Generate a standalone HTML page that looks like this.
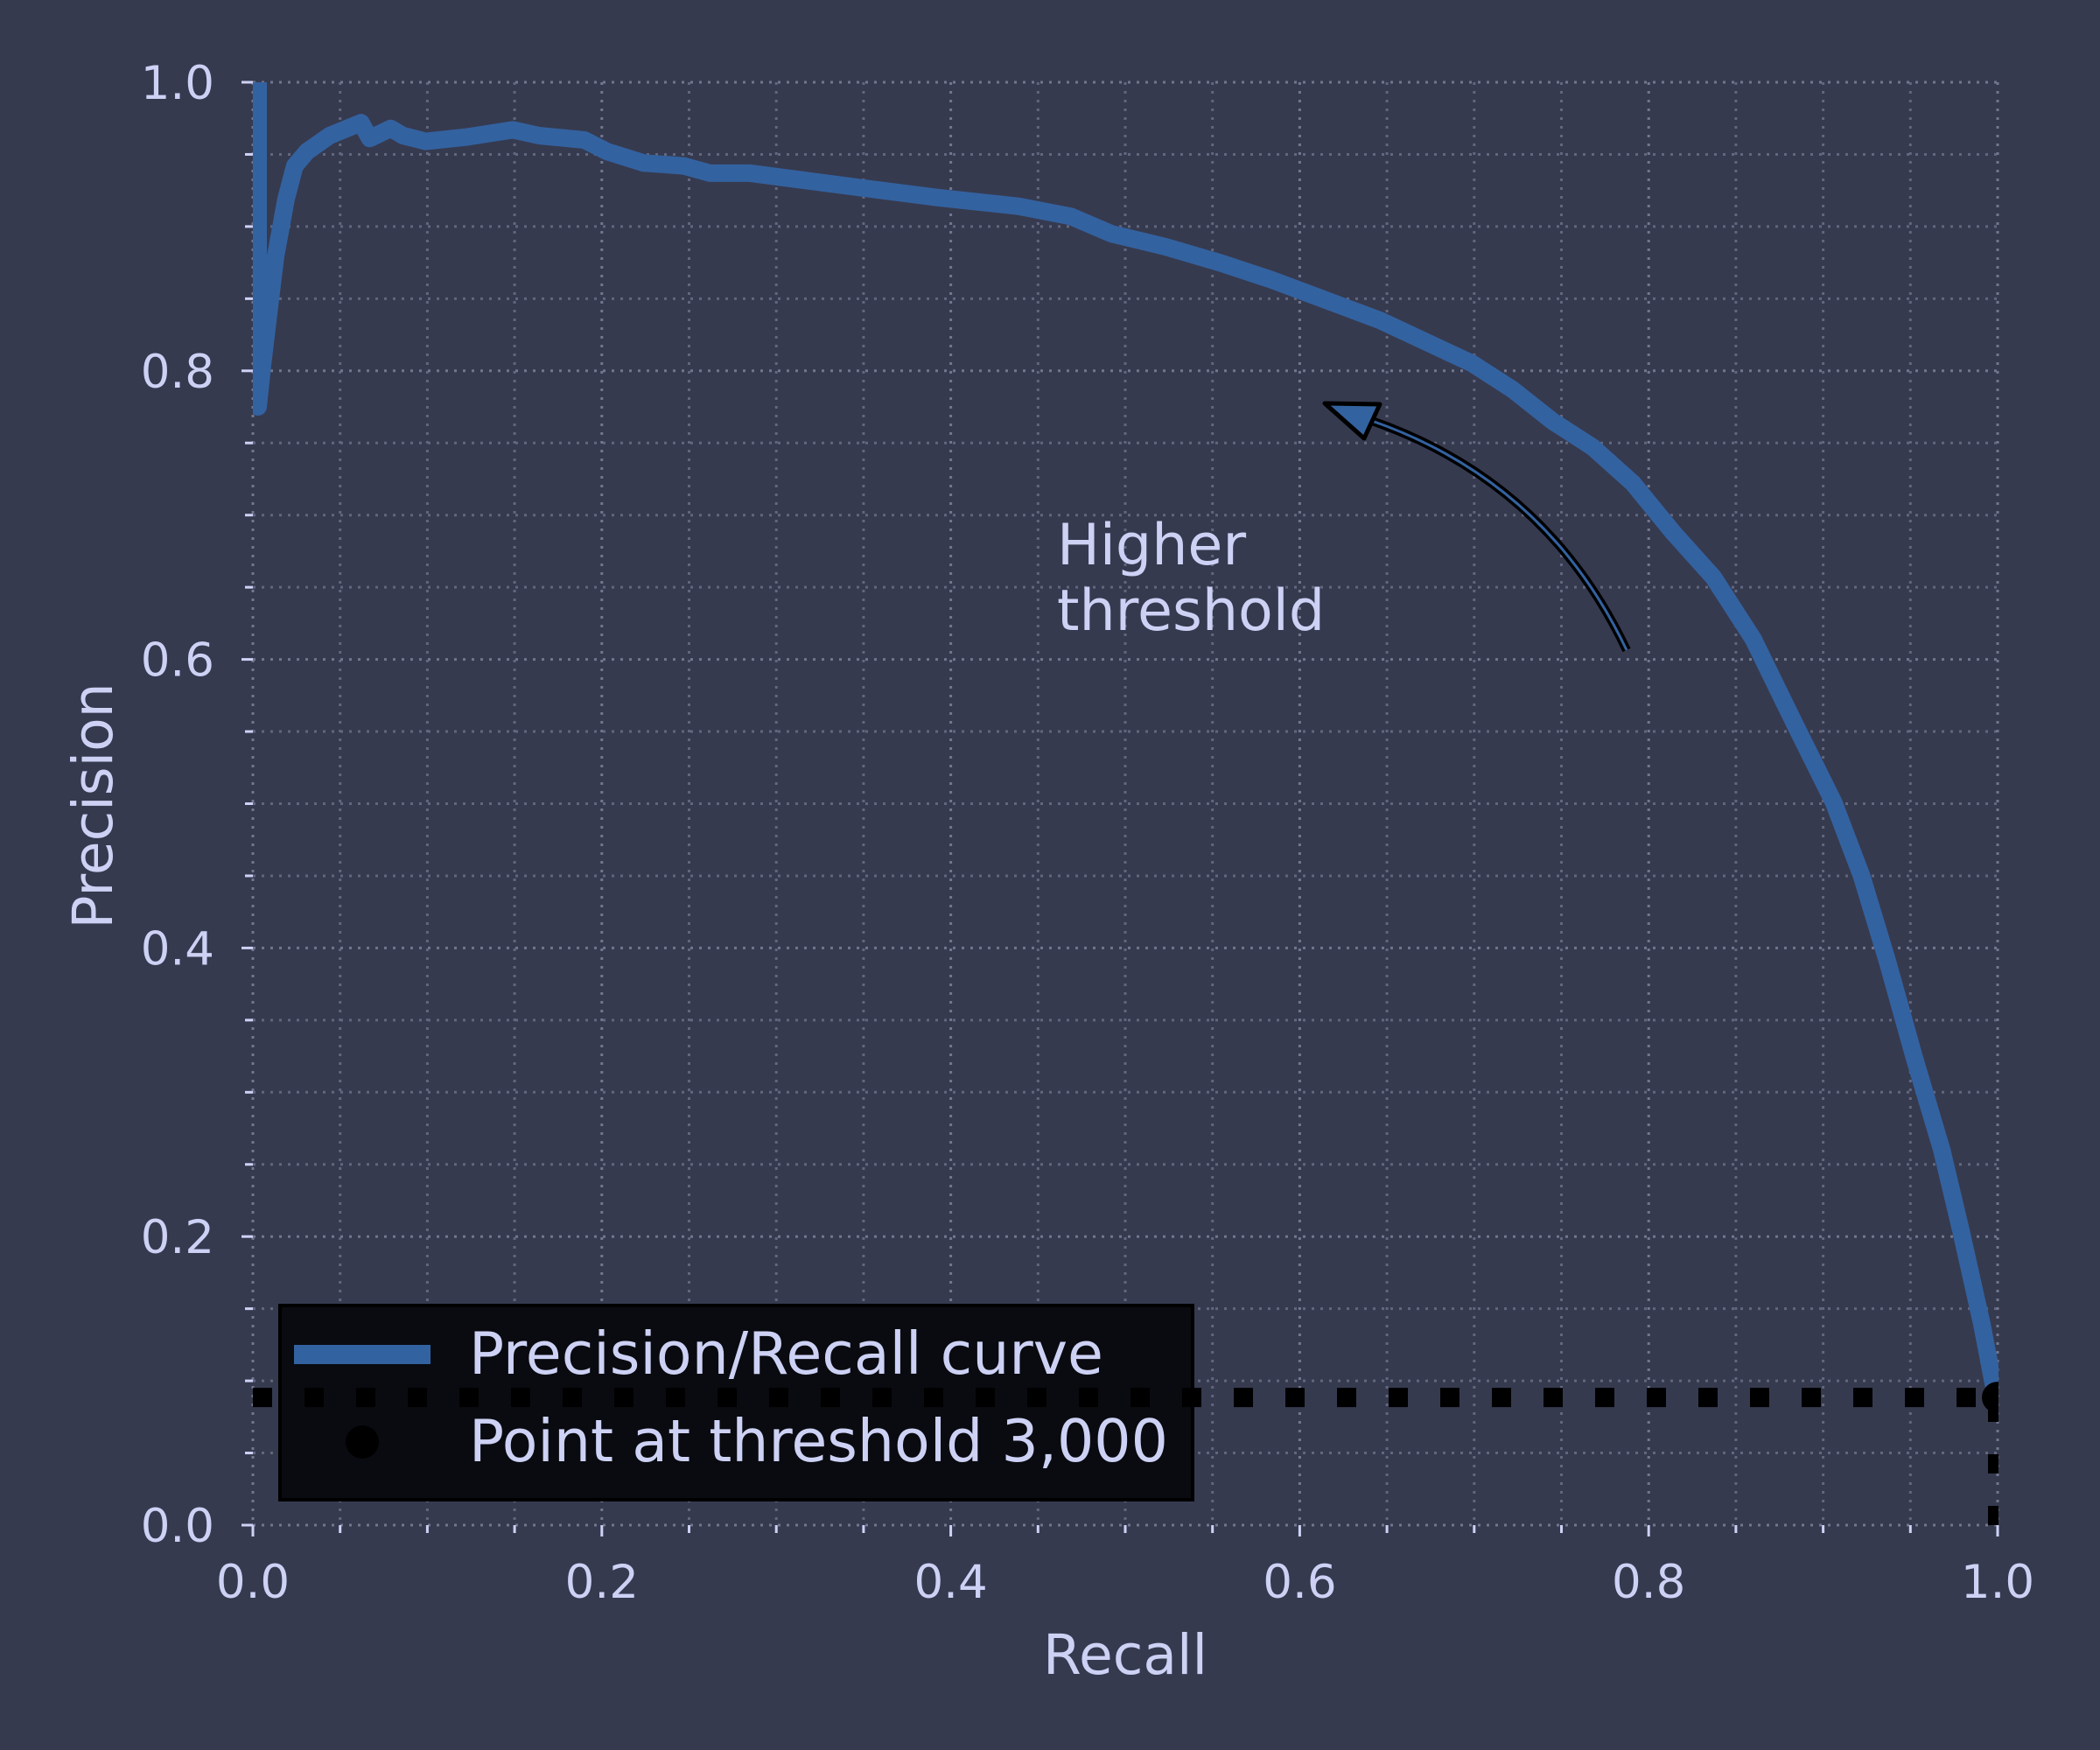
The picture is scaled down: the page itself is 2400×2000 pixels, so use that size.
<!DOCTYPE html>
<html><head><meta charset="utf-8">
<style>
html,body{margin:0;padding:0;background:#363a4f;}
svg{display:block;font-family:"DejaVu Sans","Liberation Sans",sans-serif;}
</style></head>
<body>
<svg id="chart" width="2400" height="2000" viewBox="0 0 2400 2000" xmlns="http://www.w3.org/2000/svg">
<rect x="0" y="0" width="2400" height="2000" fill="#363a4f"/>
<defs><clipPath id="plotclip"><rect x="289" y="94" width="1995" height="1649"/></clipPath></defs>
<g id="grid"></g>
<g id="ticks"></g>
<g id="series" clip-path="url(#plotclip)"></g>
<text x="1286" y="1913" font-size="63" fill="#cdd2f5" text-anchor="middle">Recall</text>
<text transform="translate(128,921) rotate(-90)" font-size="63" fill="#cdd2f5" text-anchor="middle">Precision</text>
<g>
<text font-size="65" fill="#cdd2f5"><tspan x="1208" y="645">Higher</tspan><tspan x="1208" y="720">threshold</tspan></text>
<path d="M1859,743 Q1768,551 1568,481" fill="none" stroke="#000" stroke-width="10"/>
<path d="M1859,743 Q1768,551 1568,481" fill="none" stroke="#3362a0" stroke-width="3"/>
<polygon points="1514,461 1577,462 1559,501" fill="#3362a0" stroke="#000" stroke-width="5" stroke-linejoin="round"/>
</g>
<g id="legend">
<rect x="320" y="1492" width="1043" height="222" fill="#0a0b10" stroke="#000" stroke-width="4"/>
<line x1="336" y1="1548" x2="492" y2="1548" stroke="#3362a0" stroke-width="22"/>
<text x="536" y="1570" font-size="66.5" fill="#cdd2f5">Precision/Recall curve</text>
<circle cx="414" cy="1648" r="19" fill="#000"/>
<text x="536" y="1670" font-size="66.5" fill="#cdd2f5">Point at threshold 3,000</text>
</g>
<g id="overlay" clip-path="url(#plotclip)"></g>
</svg>
<script>
const recalls = [0.003,0.003,0.0055,0.009,0.013,0.019,0.024,0.031,0.044,0.062,0.067,0.079,0.086,0.099,0.122,0.149,0.164,0.19,0.203,0.224,0.247,0.262,0.285,0.316,0.354,0.393,0.439,0.469,0.492,0.523,0.554,0.584,0.615,0.646,0.676,0.699,0.722,0.745,0.768,0.791,0.814,0.837,0.86,0.883,0.906,0.922,0.937,0.952,0.968,0.979,0.991,0.998,1.0];
const precisions = [1.0,0.775,0.804,0.839,0.879,0.919,0.942,0.952,0.963,0.972,0.961,0.968,0.963,0.959,0.962,0.967,0.963,0.96,0.952,0.944,0.942,0.937,0.937,0.932,0.926,0.92,0.914,0.907,0.895,0.886,0.875,0.863,0.849,0.835,0.818,0.805,0.787,0.765,0.747,0.722,0.688,0.657,0.614,0.557,0.501,0.45,0.39,0.325,0.26,0.204,0.139,0.095,0.0885];
const thresholdPoint = [1.0, 0.0885];
const xTickLabels = ["0.0","0.2","0.4","0.6","0.8","1.0"];
const yTickLabels = ["0.0","0.2","0.4","0.6","0.8","1.0"];

const X0=289,X1=2283,Y0=1743,Y1=94;
function sx(v){return X0+(X1-X0)*v;}
function sy(v){return Y0-(Y0-Y1)*v;}
const NS="http://www.w3.org/2000/svg";
function mk(tag,attrs,parent){const e=document.createElementNS(NS,tag);for(const k in attrs)e.setAttribute(k,attrs[k]);parent.appendChild(e);return e;}
const grid=document.getElementById('grid'),ticks=document.getElementById('ticks'),series=document.getElementById('series'),overlay=document.getElementById('overlay');

for(let i=0;i<=20;i++){
  const v=i/20, major=(i%4===0);
  let g=mk('line',{x1:sx(v),y1:Y1,x2:sx(v),y2:Y0,stroke:major?'#72768e':'#62667e','stroke-width':3,'stroke-dasharray':'3 7'},grid);
  
  
  g=mk('line',{x1:X0,y1:sy(v),x2:X1,y2:sy(v),stroke:major?'#72768e':'#62667e','stroke-width':3,'stroke-dasharray':'3 7'},grid);
  
  
  const L=major?13:9;
  let t=mk('line',{x1:sx(v),y1:Y0,x2:sx(v),y2:Y0+L,stroke:'#cdd2f5','stroke-width':3},ticks);
  
  
  t=mk('line',{x1:X0-L,y1:sy(v),x2:X0,y2:sy(v),stroke:'#cdd2f5','stroke-width':3},ticks);
  
  
}
xTickLabels.forEach((s,i)=>{
  const v=i/(xTickLabels.length-1);
  const t=mk('text',{x:sx(v),y:1826,'font-size':53,fill:'#cdd2f5','text-anchor':'middle'},ticks);
  t.textContent=s;
  
  
});
yTickLabels.forEach((s,i)=>{
  const v=i/(yTickLabels.length-1);
  const t=mk('text',{x:245,y:sy(v)+19,'font-size':53,fill:'#cdd2f5','text-anchor':'end'},ticks);
  t.textContent=s;
  
  
});

const pts=recalls.map((r,i)=>sx(r).toFixed(1)+','+sy(precisions[i]).toFixed(1)).join(' ');
const curve=mk('polyline',{points:pts,fill:'none',stroke:'#3362a0','stroke-width':20,'stroke-linejoin':'round','stroke-linecap':'round'},series);



const px=sx(thresholdPoint[0]), py=sy(thresholdPoint[1]);
let h=mk('line',{x1:sx(0),y1:py,x2:px,y2:py,stroke:'#000','stroke-width':22,'stroke-dasharray':'22 37'},overlay);


let vline=mk('line',{x1:px,y1:sy(0),x2:px,y2:py,stroke:'#000','stroke-width':22,'stroke-dasharray':'22 37'},overlay);


let dot=mk('circle',{cx:px,cy:py,r:18,fill:'#000'},overlay);


</script>
</body></html>
